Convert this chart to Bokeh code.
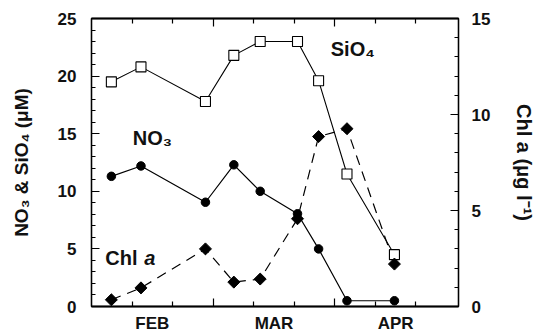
from bokeh.plotting import figure
from bokeh.models import Range1d, LinearAxis, FixedTicker, SingleIntervalTicker, Label
from bokeh.embed import file_html
from bokeh.resources import INLINE
import numpy as np

# ---- data (x = day of the sampling period, month boundaries at 30 and 60) ----
days = [4.9, 12.2, 28.1, 35.1, 41.6, 50.8, 56.0, 63.0, 74.7]
sio4 = [19.5, 20.8, 17.8, 21.8, 23.0, 23.0, 19.6, 11.5, 4.5]
no3 = [11.3, 12.2, 9.05, 12.3, 10.0, 8.05, 5.0, 0.5, 0.5]
chl = [0.35, 0.97, 3.0, 1.27, 1.43, 4.57, 8.85, 9.26, 2.21]
month_ticks = [15, 45, 75]
month_labels = ["FEB", "MAR", "APR"]
day_long_ticks = [30, 60]
day_short_ticks = [10, 20, 40, 50, 70, 80]

FONT = "Liberation Sans"

p = figure(width=538, height=335, x_range=Range1d(0, 90.5), y_range=Range1d(0, 25),
           output_backend="svg", toolbar_location=None,
           x_axis_location=None, y_axis_location=None,
           min_border_left=91, min_border_right=76, min_border_top=18, min_border_bottom=29)
p.extra_y_ranges = {"chl": Range1d(0, 15)}
for g in p.grid:
    g.visible = False
p.outline_line_color = "black"
p.outline_line_width = 1.3
p.background_fill_color = "white"
p.border_fill_color = "white"


def style(ax, tick_in=8, minor_in=4):
    ax.axis_line_color = "black"
    ax.axis_line_width = 1.3
    ax.major_tick_in = tick_in
    ax.major_tick_out = 0
    ax.minor_tick_in = minor_in
    ax.minor_tick_out = 0
    ax.major_tick_line_width = 1.2
    ax.minor_tick_line_width = 1.2
    ax.major_tick_line_color = "black"
    ax.minor_tick_line_color = "black"
    ax.major_label_text_font = FONT
    ax.major_label_text_font_style = "bold"
    ax.major_label_text_font_size = "17px"
    ax.major_label_text_color = "#111111"
    ax.axis_label_text_font = FONT
    ax.axis_label_text_font_style = "bold"
    ax.axis_label_text_font_size = "19px"
    ax.axis_label_text_color = "#111111"


# left axis
yl = LinearAxis(ticker=SingleIntervalTicker(interval=5, num_minor_ticks=5),
                axis_label="NO₃ & SiO₄ (μM)")
style(yl)
yl.major_label_standoff = 15
yl.axis_label_standoff = 23
p.add_layout(yl, "left")

# right axis
yr = LinearAxis(y_range_name="chl", ticker=SingleIntervalTicker(interval=5, num_minor_ticks=5),
                axis_label="Chl a (μg l⁻¹)")
style(yr)
yr.major_label_standoff = 13
yr.axis_label_standoff = 20
yr.axis_label_text_font_size = "20px"
p.add_layout(yr, "right")


def tick_axis(ticks, length):
    ax = LinearAxis(ticker=FixedTicker(ticks=[], minor_ticks=ticks))
    style(ax, tick_in=0, minor_in=length)
    return ax


# bottom: long ticks at month boundaries, then month labels with short ticks
p.add_layout(tick_axis(day_long_ticks, 8), "below")
xm = LinearAxis(ticker=FixedTicker(ticks=month_ticks, minor_ticks=day_short_ticks),
                major_label_overrides={t: l for t, l in zip(month_ticks, month_labels)})
style(xm, tick_in=0, minor_in=5)
xm.major_tick_line_color = None
xm.major_label_text_font_size = "17px"
xm.major_label_standoff = 7
p.add_layout(xm, "below")

# top ticks
p.add_layout(tick_axis(day_long_ticks, 8), "above")
p.add_layout(tick_axis(day_short_ticks, 5), "above")

# lines
p.line(days, sio4, line_color="black", line_width=1.1)
p.line(days, no3, line_color="black", line_width=1.2)
p.line(days, chl, y_range_name="chl", line_color="black", line_width=1.2, line_dash="10 7")

# markers
p.scatter(days, sio4, marker="square", size=10, fill_color="white", line_color="black", line_width=1.1)
p.scatter(days, no3, marker="circle", size=8.5, fill_color="black", line_color="black")
p.scatter(days, chl, y_range_name="chl", marker="square", angle=np.pi / 4, size=8.5,
          fill_color="black", line_color="black")

# series labels
lab = dict(text_font=FONT, text_font_style="bold", text_font_size="20px",
           text_color="#111111", text_baseline="alphabetic")
p.add_layout(Label(x=59.0, y=22.37, text="SiO₄", **lab))
p.add_layout(Label(x=10.2, y=14.67, text="NO₃", **lab))
p.add_layout(Label(x=3.4, y=4.19, text="Chl", **lab))
lab_it = dict(lab)
lab_it["text_font_style"] = "bold italic"
p.add_layout(Label(x=13.0, y=4.19, text="a", **lab_it))

open("out.html", "w").write(file_html(p, INLINE))
